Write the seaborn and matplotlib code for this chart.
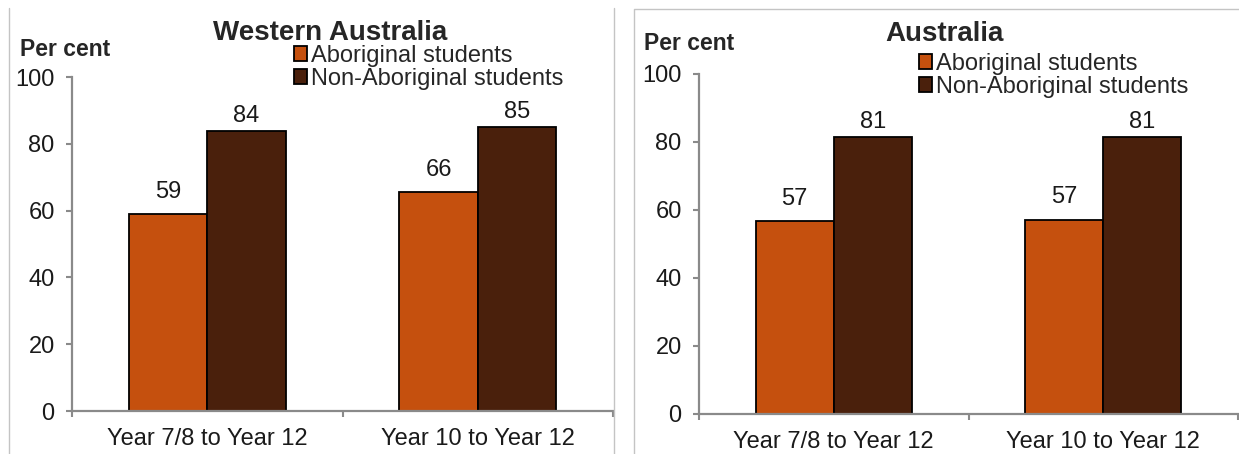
import matplotlib
matplotlib.use('Agg')
import matplotlib.pyplot as plt
import matplotlib.patches as mpatches
from matplotlib.lines import Line2D
import seaborn as sns
import pandas as pd

# data
periods = ['Year 7/8 to Year 12', 'Year 10 to Year 12']
groups = ['Aboriginal students', 'Non-Aboriginal students']
wa_aboriginal = [59.0, 65.6]
wa_non_aboriginal = [83.8, 85.0]
aus_aboriginal = [56.8, 57.2]
aus_non_aboriginal = [81.4, 81.4]
titles = ['Western Australia', 'Australia']
y_ticks = [0, 20, 40, 60, 80, 100]

colors = ['#C5500E', '#4A200C']
grey = '#8a8a8a'

sns.set_style('white')
plt.rcParams['font.family'] = ['Liberation Sans', 'DejaVu Sans']

W, H = 1239, 454
fig = plt.figure(figsize=(W / 100, H / 100), dpi=100)
fig.set_facecolor('white')


def px_axes(l, t, r, b):
    return fig.add_axes([l / W, 1 - b / H, (r - l) / W, (b - t) / H])


panels = [
    dict(abor=wa_aboriginal, non=wa_non_aboriginal, title=titles[0],
         box=(72, 77, 613, 411), title_xy=(330, 40), per_xy=(20, 56),
         leg_xy=(294, 45)),
    dict(abor=aus_aboriginal, non=aus_non_aboriginal, title=titles[1],
         box=(699, 74, 1238, 414), title_xy=(944, 41), per_xy=(644, 50),
         leg_xy=(919, 53)),
]

for p in panels:
    df = pd.DataFrame({
        'period': periods * 2,
        'group': [groups[0]] * 2 + [groups[1]] * 2,
        'value': p['abor'] + p['non'],
    })
    ax = px_axes(*p['box'])
    sns.barplot(data=df, x='period', y='value', hue='group', order=periods,
                hue_order=groups, palette=colors, edgecolor='black',
                linewidth=1.3, width=0.58, gap=0, saturation=1, legend=False,
                ax=ax)
    # excel-style labels: the taller bars get theirs a bit closer
    for cont, pad in zip(ax.containers, [8, 3]):
        ax.bar_label(cont, fmt='{:.0f}', padding=pad, fontsize=17, color='#1a1a1a')

    ax.set_xlim(-0.5, 1.5)
    ax.set_ylim(0, 100)
    ax.set_yticks(y_ticks)
    ax.set_xlabel('')
    ax.set_ylabel('')
    for s in ['top', 'right']:
        ax.spines[s].set_visible(False)
    for s in ['left', 'bottom']:
        ax.spines[s].set_color(grey)
        ax.spines[s].set_linewidth(1.6)
    ax.spines['bottom'].set_zorder(5)
    ax.tick_params(axis='y', direction='out', length=4.5, width=1.5, color=grey,
                   labelsize=17, pad=8, labelcolor='#1a1a1a', left=True)
    ax.tick_params(axis='x', which='major', length=0, labelsize=17, pad=12,
                   labelcolor='#1a1a1a')
    ax.set_xticks([-0.5, 0.5, 1.5], minor=True)
    ax.tick_params(axis='x', which='minor', direction='out', length=4.5,
                   width=1.5, color=grey, bottom=True)

    fig.text(p['title_xy'][0] / W, 1 - p['title_xy'][1] / H, p['title'],
             ha='center', va='baseline', fontsize=20, fontweight='bold')
    fig.text(p['per_xy'][0] / W, 1 - p['per_xy'][1] / H, 'Per cent',
             ha='left', va='baseline', fontsize=16.5, fontweight='bold')

    handles = [mpatches.Patch(facecolor=c, edgecolor='black', linewidth=1.3)
               for c in colors]
    fig.legend(handles, groups, loc='upper left',
               bbox_to_anchor=(p['leg_xy'][0] / W, 1 - p['leg_xy'][1] / H),
               frameon=False, fontsize=17, borderpad=0, borderaxespad=0,
               handlelength=0.55, handleheight=0.6, handletextpad=0.15,
               labelspacing=0.05)

# light grey panel frames
frame = '#c4c4c4'
fig.add_artist(Line2D([9 / W, 9 / W], [0, 1 - 8 / H], color=frame, lw=1))
fig.add_artist(Line2D([614 / W, 614 / W], [0, 1 - 8 / H], color=frame, lw=1))
fig.add_artist(Line2D([634 / W, 634 / W, 1], [0, 1 - 9 / H, 1 - 9 / H],
                      color=frame, lw=1))

fig.savefig('out.png', dpi=100)
